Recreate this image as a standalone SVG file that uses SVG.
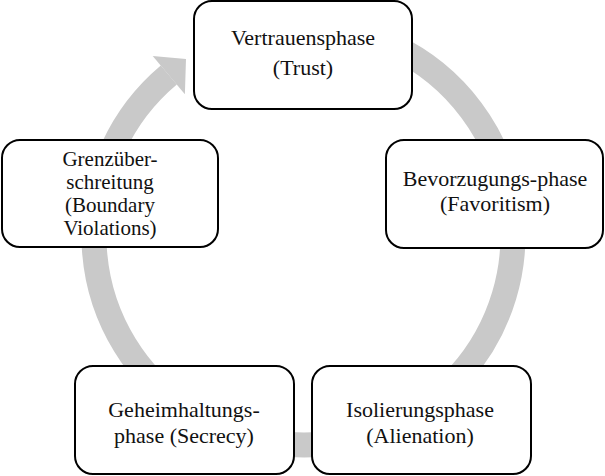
<svg xmlns="http://www.w3.org/2000/svg" width="605" height="476" viewBox="0 0 605 476">
<style>
.box{fill:#fff;stroke:#000;stroke-width:2}
.lbl{font-family:"Liberation Serif","Times New Roman",serif;font-size:22px;fill:#111;text-anchor:middle}
.tight{font-size:21px}
.ring{fill:none;stroke:#c9c9c9;stroke-width:25}
.head{fill:#c9c9c9}
</style>
<rect width="605" height="476" fill="#fff"/>
<g id="connectors">
<path class="ring" d="M 303.5 26 A 209.5 209.5 0 1 1 168.8 75.0"/>
<polygon class="head" points="152.7,55.9 186,59 184.9,94.2"/>
</g>
<g id="trust">
<rect class="box" x="194" y="1" width="218" height="108" rx="18"/>
<text class="lbl" x="303" y="45">Vertrauensphase</text>
<text class="lbl" x="303" y="75">(Trust)</text>
</g>
<g id="favoritism">
<rect class="box" x="386" y="140" width="217" height="108" rx="18"/>
<text class="lbl" x="495" y="186">Bevorzugungs-phase</text>
<text class="lbl" x="495" y="211">(Favoritism)</text>
</g>
<g id="alienation">
<rect class="box" x="312" y="366" width="219" height="108" rx="18"/>
<text class="lbl" x="420" y="417">Isolierungsphase</text>
<text class="lbl" x="420" y="443">(Alienation)</text>
</g>
<g id="secrecy">
<rect class="box" x="75" y="366" width="219" height="108" rx="18"/>
<text class="lbl" x="184" y="417">Geheimhaltungs-</text>
<text class="lbl" x="184" y="443">phase (Secrecy)</text>
</g>
<g id="boundary">
<rect class="box" x="2" y="140" width="216" height="107" rx="18"/>
<text class="lbl tight" x="110" y="166">Grenzüber-</text>
<text class="lbl tight" x="110" y="189">schreitung</text>
<text class="lbl tight" x="110" y="212">(Boundary</text>
<text class="lbl tight" x="110" y="235">Violations)</text>
</g>
</svg>
